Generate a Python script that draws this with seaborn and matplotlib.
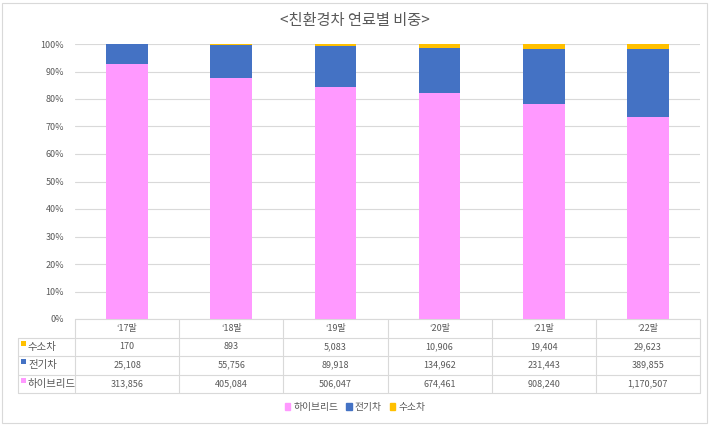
import matplotlib
matplotlib.use("Agg")
import matplotlib.pyplot as plt
import seaborn as sns
import numpy as np
import pandas as pd
from matplotlib.patches import Patch, Rectangle
from matplotlib.lines import Line2D
from matplotlib.ticker import PercentFormatter

categories = ["‘17말", "‘18말", "‘19말", "‘20말", "‘21말", "‘22말"]
hydrogen = [170, 893, 5083, 10906, 19404, 29623]
ev = [25108, 55756, 89918, 134962, 231443, 389855]
hybrid = [313856, 405084, 506047, 674461, 908240, 1170507]
series_names = ["수소차", "전기차", "하이브리드"]

sns.set_theme(style="white")
plt.rcParams['font.family'] = ['Noto Sans CJK KR', 'DejaVu Sans']

C_HYB = "#FF99FF"
C_EV = "#4472C4"
C_H2 = "#FFC000"
TXT = "#595959"
GRID = "#D9D9D9"

df = pd.DataFrame({"cat": categories, "h2": hydrogen, "ev": ev, "hyb": hybrid})
tot = df["h2"] + df["ev"] + df["hyb"]
df["s_hyb"] = df["hyb"] / tot
df["s_ev"] = (df["hyb"] + df["ev"]) / tot
df["s_all"] = (df["hyb"] + df["ev"] + df["h2"]) / tot

W, H = 710, 426
fig = plt.figure(figsize=(W / 100, H / 100), dpi=100)
ax_l, ax_r, ax_t, ax_b = 75, 700, 44, 319
ax = fig.add_axes([ax_l / W, (H - ax_b) / H, (ax_r - ax_l) / W, (ax_b - ax_t) / H])

for col, c in [("s_all", C_H2), ("s_ev", C_EV), ("s_hyb", C_HYB)]:
    sns.barplot(data=df, x="cat", y=col, color=c, saturation=1, width=0.4,
                linewidth=0, ax=ax, zorder=3)

ax.set_xlim(-0.5, 5.5)
ax.set_ylim(0, 1)
ax.set_yticks(np.arange(0, 1.01, 0.1))
ax.yaxis.set_major_formatter(PercentFormatter(1.0, decimals=0))
ax.tick_params(axis='y', labelsize=6.5, colors=TXT, length=0, pad=8)
ax.set_xticks([])
ax.set_xlabel("")
ax.set_ylabel("")
for s in ax.spines.values():
    s.set_visible(False)
ax.yaxis.grid(True, color=GRID, linewidth=0.8, zorder=0)
ax.set_axisbelow(True)

# data table
ph = 1.0 / (ax_b - ax_t)
pw = 1.0 / (ax_r - ax_l)
rows_px = [319, 337.5, 356, 374.5, 393]
ry = [-(p - 319) * ph for p in rows_px]
lx = -(75 - 18) * pw
lc = dict(color=GRID, linewidth=0.8, transform=ax.transAxes, clip_on=False)
ax.add_line(Line2D([0, 1], [ry[0], ry[0]], **lc))
for y in ry[1:]:
    ax.add_line(Line2D([lx, 1], [y, y], **lc))
ax.add_line(Line2D([lx, lx], [ry[1], ry[-1]], **lc))
for i in range(7):
    x = i / 6
    ax.add_line(Line2D([x, x], [ry[0], ry[-1]], **lc))

tk = dict(transform=ax.transAxes, fontsize=6.5, color=TXT, ha='center', va='center', clip_on=False)
for i, c in enumerate(categories):
    ax.text((i + 0.5) / 6, (ry[0] + ry[1]) / 2, c, **tk)
row_data = [hydrogen, ev, hybrid]
row_cols = [C_H2, C_EV, C_HYB]
for r, (name, vals, col) in enumerate(zip(series_names, row_data, row_cols)):
    yc = (ry[r + 1] + ry[r + 2]) / 2
    for i, v in enumerate(vals):
        ax.text((i + 0.5) / 6, yc, f"{v:,}", **tk)
    ax.add_patch(Rectangle((lx + 3 * pw, yc + 1 * ph), 5 * pw, 5 * ph, transform=ax.transAxes,
                           color=col, clip_on=False, linewidth=0))
    ax.text(lx + 10 * pw, yc, name, transform=ax.transAxes, fontsize=7.5, color=TXT,
            ha='left', va='center', clip_on=False)

fig.text(0.5, 1 - 20 / H, "<친환경차 연료별 비중>", ha='center', va='center', fontsize=11, color=TXT)

handles = [Patch(color=C_HYB, label="하이브리드"), Patch(color=C_EV, label="전기차"),
           Patch(color=C_H2, label="수소차")]
fig.legend(handles=handles, loc='center', bbox_to_anchor=(0.5, 1 - 407 / H), ncol=3, frameon=False,
           fontsize=7, handlelength=0.6, handleheight=0.6, handletextpad=0.3, columnspacing=0.8,
           labelcolor=TXT)

fig.patches.append(Rectangle((2 / W, 3 / H), (W - 5) / W, (H - 6) / H, transform=fig.transFigure,
                             fill=False, edgecolor=GRID, linewidth=0.8))

fig.savefig("out.png", dpi=100, facecolor="white")
